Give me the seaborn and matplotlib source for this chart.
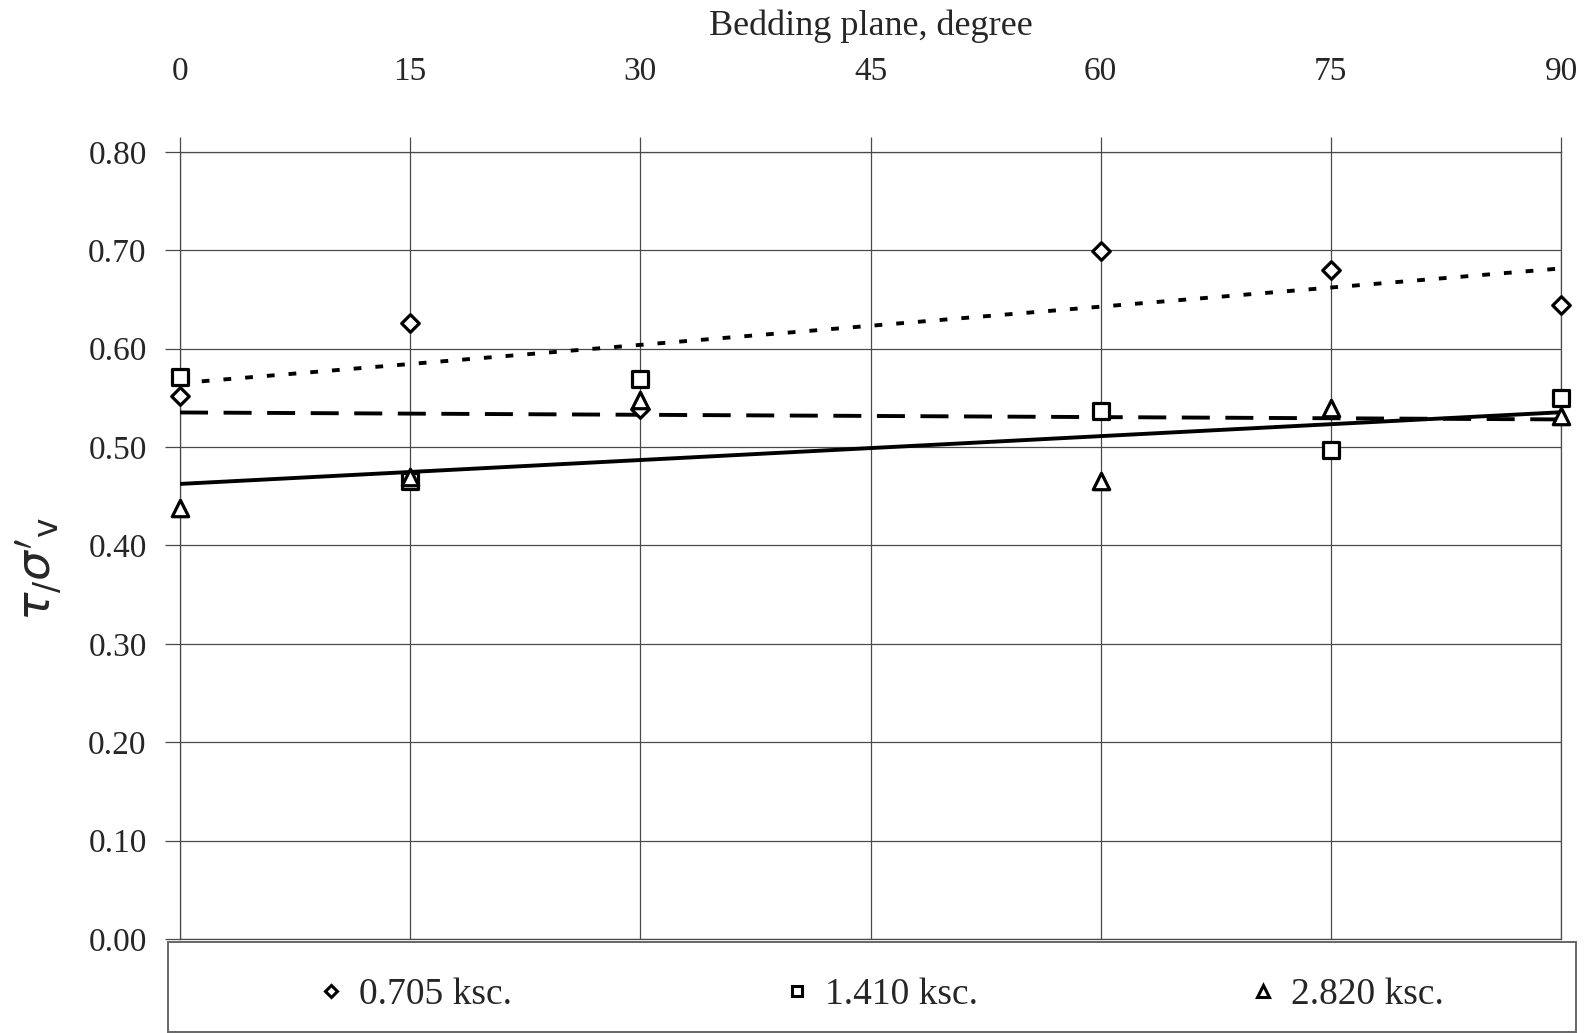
import numpy as np
import pandas as pd
import seaborn as sns
import matplotlib
matplotlib.use("Agg")
import matplotlib.pyplot as plt
from matplotlib.lines import Line2D
from matplotlib.patches import Rectangle
from matplotlib.ticker import FormatStrFormatter

# ---- data ----
angles = [0, 15, 30, 60, 75, 90]
ksc_0705 = [0.552, 0.626, 0.539, 0.699, 0.680, 0.644]
ksc_1410 = [0.571, 0.466, 0.569, 0.537, 0.497, 0.550]
ksc_2820 = [0.438, 0.470, 0.548, 0.466, 0.540, 0.532]
series_labels = ["0.705 ksc.", "1.410 ksc.", "2.820 ksc."]
x_ticks = [0, 15, 30, 45, 60, 75, 90]
y_ticks = [0.0, 0.1, 0.2, 0.3, 0.4, 0.5, 0.6, 0.7, 0.8]

sns.set_style("white")
plt.rcParams["font.family"] = ["Liberation Serif", "DejaVu Serif"]
plt.rcParams["mathtext.fontset"] = "dejavusans"

fig = plt.figure(figsize=(15.89, 10.33), dpi=100)
ax = fig.add_axes([0.1133, 0.0910, 0.8691, 0.7619])

grid_col = "#4a4a4a"
styles = [
    dict(marker="D", s=80, ls=(0, (2.0, 3.6)), vals=ksc_0705),
    dict(marker="s", s=120, ls=(0, (7.2, 4.0)), vals=ksc_1410),
    dict(marker="^", s=140, ls="-", vals=ksc_2820),
]

for st, lab in zip(styles, series_labels):
    df = pd.DataFrame({"angle": angles, "ratio": st["vals"]})
    sns.regplot(data=df, x="angle", y="ratio", ax=ax, scatter=False, ci=None,
                truncate=True, color="black",
                line_kws=dict(lw=2.8, ls=st["ls"], zorder=3))

for st, lab in zip(styles, series_labels):
    df = pd.DataFrame({"angle": angles, "ratio": st["vals"]})
    sns.scatterplot(data=df, x="angle", y="ratio", ax=ax, marker=st["marker"],
                    s=st["s"], facecolor="white", edgecolor="black",
                    linewidth=2.3, clip_on=False, zorder=4, legend=False)

ax.set_xlim(0, 90)
ax.set_ylim(0, 0.80)
ax.set_xticks(x_ticks)
ax.set_yticks(y_ticks)
ax.yaxis.set_major_formatter(FormatStrFormatter("%.2f"))
ax.grid(True, color=grid_col, lw=0.9)
for sp in ax.spines.values():
    sp.set_visible(True)
    sp.set_color(grid_col)
    sp.set_linewidth(0.9)

ax.xaxis.tick_top()
ax.xaxis.set_label_position("top")
ax.tick_params(axis="x", top=True, bottom=False, direction="out", length=11,
               width=0.9, color=grid_col, pad=36, labelsize=24)
ax.tick_params(axis="y", left=True, direction="out", length=11, width=0.9,
               color=grid_col, pad=13, labelsize=24)

ax.set_xlabel("Bedding plane, degree", fontsize=26)
ax.xaxis.set_label_coords(0.5, 1.149)
ax.set_ylabel(r"$\tau_{/}\sigma'_{\mathrm{v}}$", fontsize=34,
              family=["DejaVu Sans"])
ax.yaxis.set_label_coords(-0.084, 0.47)

# legend box
fig.patches.append(Rectangle((0.1057, 0.001), 0.8861, 0.0871,
                             transform=fig.transFigure, fill=False,
                             edgecolor="#666666", lw=1.4))
handles = [
    Line2D([], [], marker="D", ls="none", mfc="white", mec="black", ms=6.5, mew=2.2),
    Line2D([], [], marker="s", ls="none", mfc="white", mec="black", ms=7.5, mew=2.2),
    Line2D([], [], marker="^", ls="none", mfc="white", mec="black", ms=8, mew=2.2),
]
fig.legend(handles, series_labels, loc="center", ncol=3, mode="expand",
           bbox_to_anchor=(0.2014, 0.0118, 0.7074, 0.05), frameon=False,
           fontsize=27, handlelength=0.6, handletextpad=0.45, borderpad=0,
           borderaxespad=0)

fig.savefig("out.png", dpi=100)
